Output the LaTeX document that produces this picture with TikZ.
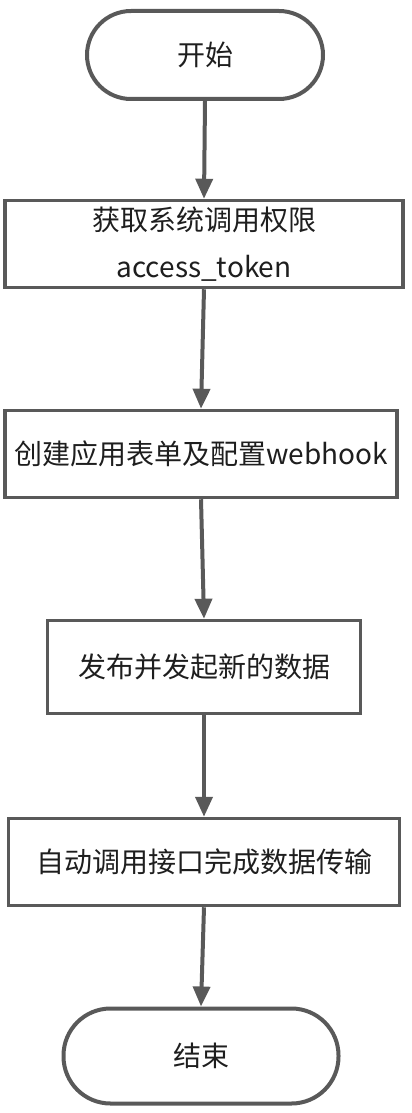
\documentclass[tikz,border=0pt]{standalone}
\usepackage{fontspec}
\setmainfont{Noto Sans CJK SC}
\usetikzlibrary{arrows.meta}
\definecolor{linegray}{HTML}{595959}
\definecolor{textgray}{HTML}{1E1E1E}
\tikzset{
  terminal/.style={draw=linegray, line width=4pt, rounded corners=44pt,
    minimum height=88pt, inner sep=0pt, text=textgray},
  process/.style={draw=linegray, line width=3.5pt, minimum height=87pt,
    inner sep=0pt, text=textgray, align=center},
  flow/.style={draw=linegray, line width=4pt, -{Triangle[width=17pt,length=20pt]}}
}
\begin{document}
\begin{tikzpicture}[x=1pt, y=-1pt, font=\fontsize{28}{47}\selectfont]
  \useasboundingbox (0,0) rectangle (412,1113);

  % Start and end
  \node[terminal, minimum width=236pt] (start) at (205,55) {开始};
  \node[terminal, minimum width=275pt, minimum height=95pt, rounded corners=47pt] (stop) at (201,1056) {结束};

  % Steps
  \node[process, minimum width=398pt] (token) at (204,244) {获取系统调用权限\\access\_token};
  \node[process, minimum width=392pt] (form) at (201,454) {创建应用表单及配置webhook};
  \node[process, minimum width=313pt, minimum height=93pt] (publish) at (204,667) {发布并发起新的数据};
  \node[process, minimum width=391pt] (transfer) at (204,862) {自动调用接口完成数据传输};

  % Flow
  \draw[flow] (start.south) -- (token.north);
  \draw[flow] (token.south) -- (form.north);
  \draw[flow] (form.south) -- (publish.north);
  \draw[flow] (publish.south) -- (transfer.north);
  \draw[flow] (transfer.south) -- (stop.north);
\end{tikzpicture}
\end{document}
